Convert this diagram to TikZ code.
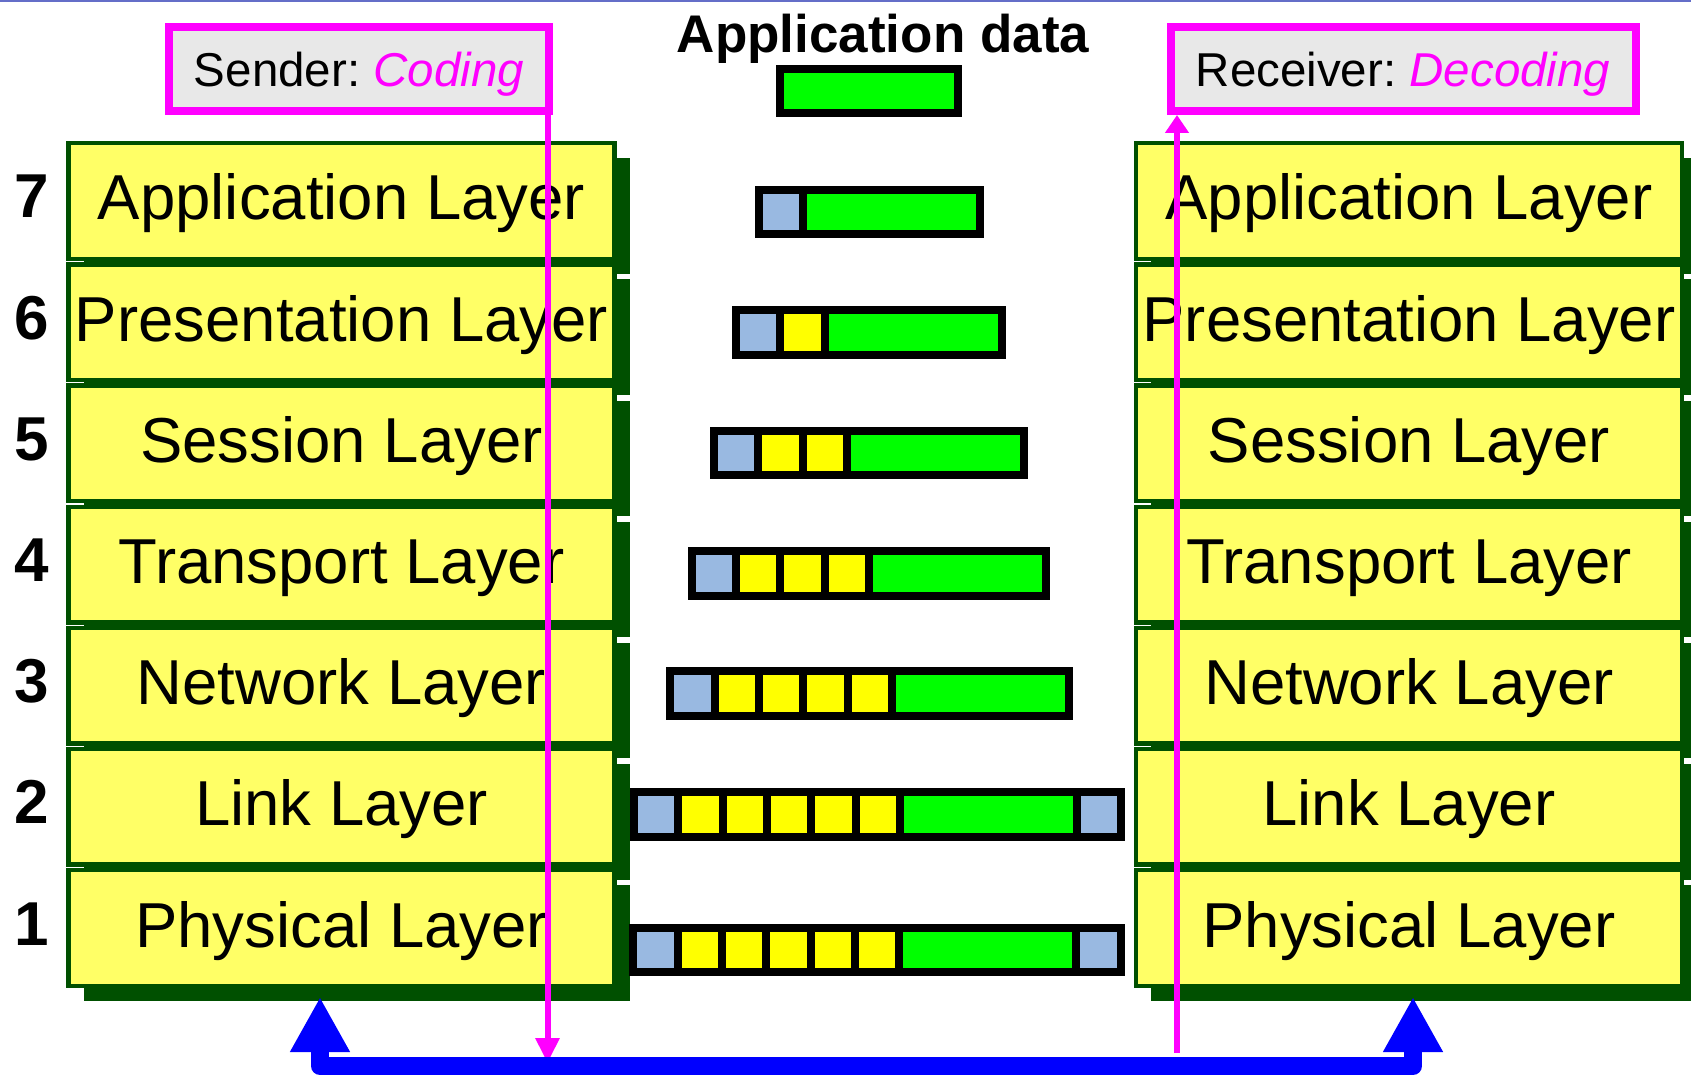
\documentclass[tikz,border=0pt]{standalone}
\usepackage{fontspec}
\setmainfont{Liberation Sans}
\usetikzlibrary{arrows.meta,shadows}

\definecolor{layergreen}{RGB}{0,80,0}
\definecolor{layerfill}{RGB}{255,255,102}
\definecolor{hdrblue}{RGB}{153,185,225}
\definecolor{hdryellow}{RGB}{255,255,0}
\definecolor{datagreen}{RGB}{0,255,0}
\definecolor{tagfill}{RGB}{232,232,232}
\definecolor{framemag}{RGB}{255,0,255}
\definecolor{busblue}{RGB}{0,0,255}
\definecolor{rulecol}{RGB}{100,110,200}

% one packet: left outer edge, centre line, list of colour/width cells
\newcommand\pkt[3]{%
  \xdef\pktpos{0}%
  \foreach \c/\w in {#3}{%
    \filldraw[cell, fill=\c] ({#1+4+\pktpos*44.3}, {#2-22.2}) rectangle ({#1+4+(\pktpos+\w)*44.3}, {#2+22.2});
    \pgfmathsetmacro\np{\pktpos+\w}\xdef\pktpos{\np}%
  }%
}

\begin{document}
\begin{tikzpicture}[x=1pt,y=-1pt,
  layer/.style={draw=layergreen, line width=4.4pt, fill=layerfill,
    minimum width=546pt, minimum height=115.6pt, inner sep=0pt,
    text height=38pt, text depth=0pt,
    font=\fontsize{63.5}{76}\selectfont,
    general shadow={fill=layergreen, shadow xshift=15pt, shadow yshift=-15pt}},
  digit/.style={font=\bfseries\fontsize{62}{70}\selectfont, inner sep=0pt},
  tag/.style={draw=framemag, line width=8pt, fill=tagfill, inner sep=0pt,
    minimum height=84pt, text height=36pt, text depth=0pt,
    font=\fontsize{47.5}{56}\selectfont},
  cell/.style={draw=black, line width=8pt},
  magline/.style={draw=framemag, line width=6pt},
  bus/.style={draw=busblue, line width=18pt, line join=round,
    {Triangle[length=55pt,width=56pt]}-{Triangle[length=55pt,width=56pt]}}
]
\useasboundingbox (0,0) rectangle (1691,1075);
\fill[white] (0,0) rectangle (1691,1075);
\draw[rulecol, line width=2pt] (0,1) -- (1691,1);

% the two protocol stacks with row numbers
\foreach \n/\name [count=\i from 0] in {7/Application Layer,6/Presentation Layer,5/Session Layer,4/Transport Layer,3/Network Layer,2/Link Layer,1/Physical Layer}{
  \pgfmathsetmacro\cy{201+\i*121.17}
  \node[layer] (L\n) at (341.5,\cy) {\name};
  \node[layer] (R\n) at (1409,\cy) {\name};
  \node[digit, anchor=base] (N\n) at (32,\cy+17) {\n};
}

% title and packets growing with each header
\node[font=\bfseries\fontsize{53}{60}\selectfont, anchor=base, inner sep=0pt] (T) at (883,53) {Application data};
\pkt{776.4}{91}{datagreen/4}
\pkt{754.6}{212}{hdrblue/1,datagreen/4}
\pkt{732}{332.5}{hdrblue/1,hdryellow/1,datagreen/4}
\pkt{710}{453}{hdrblue/1,hdryellow/1,hdryellow/1,datagreen/4}
\pkt{687.8}{573.5}{hdrblue/1,hdryellow/1,hdryellow/1,hdryellow/1,datagreen/4}
\pkt{666.4}{693.5}{hdrblue/1,hdryellow/1,hdryellow/1,hdryellow/1,hdryellow/1,datagreen/4}
\pkt{630}{814.5}{hdrblue/1,hdryellow/1,hdryellow/1,hdryellow/1,hdryellow/1,hdryellow/1,datagreen/4,hdrblue/1}
\pkt{629.3}{950}{hdrblue/1,hdryellow/1,hdryellow/1,hdryellow/1,hdryellow/1,hdryellow/1,datagreen/4,hdrblue/1}

% sender and receiver tags
\node[tag, minimum width=380pt] (S) at (359,69) {Sender:~\textcolor{framemag}{\itshape Coding}};
\node[tag, minimum width=465pt] (R) at (1403,69) {Receiver:~\textcolor{framemag}{\itshape Decoding}};

% coding path down, decoding path up
\coordinate (sx) at (547.5,0);
\coordinate (sEnd) at (547.5,1063);
\draw[magline, -{Triangle[length=25pt,width=23pt]}] (S.south -| sx) -- (sEnd);
\coordinate (rStart) at (1177,1053);
\draw[magline, -{Triangle[length=18pt,width=23pt]}] (rStart) -- (R.south -| rStart);

% physical medium between the two stacks
\coordinate (busL) at (320,997);
\coordinate (busR) at (1413,997);
\draw[bus] (busL) -- (busL |- 0,1066) -- (busR |- 0,1066) -- (busR);
\end{tikzpicture}
\end{document}
